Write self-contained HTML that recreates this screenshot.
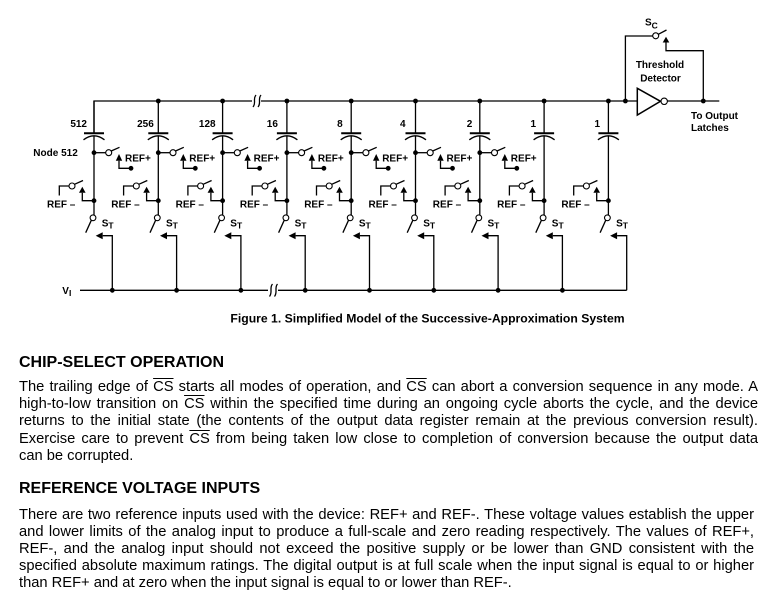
<!DOCTYPE html>
<html><head><meta charset="utf-8">
<style>
html,body{margin:0;padding:0;background:#fff;}
body{width:776px;height:603px;position:relative;overflow:hidden;font-family:"Liberation Sans",Arial,sans-serif;color:#000;}
svg{position:absolute;left:0;top:0;}
.w{stroke:#000;stroke-width:1.3;fill:none;}
.d{fill:#000;stroke:none;}
.o{fill:#fff;stroke:#000;stroke-width:1.1;}
svg text{font-family:"Liberation Sans",Arial,sans-serif;font-weight:bold;font-size:10px;fill:#000;}
.h{position:absolute;left:19px;font-size:16px;line-height:16px;font-weight:bold;white-space:nowrap;}
.l{position:absolute;left:19px;width:739px;font-size:14.7px;line-height:14.7px;text-align:justify;text-align-last:justify;}
.p2{width:735px;}
.last{text-align:left;text-align-last:left;}
.ov{text-decoration:overline;}
</style></head><body>
<svg width="776" height="340" viewBox="0 0 776 340">
<path class="w" d="M94,133.3 V101 H637.3"/>
<rect x="252" y="97" width="9" height="8" fill="#fff"/>
<path class="w" d="M256,95 C252.5,99 256.5,103 253,107"/>
<path class="w" d="M261,95 C257.5,99 261.5,103 258,107"/>
<line class="w" x1="80" y1="290.3" x2="626.7" y2="290.3"/>
<rect x="268" y="287" width="10" height="7" fill="#fff"/>
<path class="w" d="M272.5,284 C269,288 273,292 269.5,296.5"/>
<path class="w" d="M277.5,284 C274,288 278,292 274.5,296.5"/>
<text x="62.3" y="294">V<tspan font-size="8.5" dy="2">I</tspan></text>
<text x="33.3" y="156">Node 512</text>

<g transform="translate(94,0)">
<line class="w" x1="0" y1="101" x2="0" y2="133.3"/><line x1="-10" y1="133.3" x2="10" y2="133.3" stroke="#000" stroke-width="2"/><path class="w" d="M-10.5,139.8 Q0,131.8 10.5,139.8"/><line class="w" x1="0" y1="135.8" x2="0" y2="215"/>
<circle class="d" cx="0" cy="152.7" r="2.4"/><line class="w" x1="0" y1="152.7" x2="11.6" y2="152.7"/><circle class="o" cx="14.7" cy="152.7" r="3"/><line class="w" x1="17.2" y1="151" x2="25.5" y2="147.3"/><polygon class="d" points="25,154 21.8,160.7 28.2,160.7"/><path class="w" d="M25,160.7 V168.3 H37"/><circle class="d" cx="37" cy="168.3" r="2.4"/><text x="31" y="161.7">REF+</text>
<path class="w" d="M-34.7,195.5 V186 H-25"/><circle class="o" cx="-22" cy="186" r="3"/><line class="w" x1="-19.5" y1="184.3" x2="-11" y2="180.5"/><polygon class="d" points="-11.7,186.7 -15,192.7 -8.4,192.7"/><path class="w" d="M-11.7,192.7 V200.7 H0"/><circle class="d" cx="0" cy="200.7" r="2.4"/><text x="-47" y="207.5">REF –</text>
<circle class="o" cx="-1" cy="217.8" r="2.9"/><line class="w" x1="-2.7" y1="220.3" x2="-8.3" y2="232.7"/><polygon class="d" points="1.7,235.7 8.7,232.2 8.7,239.2"/><path class="w" d="M8.7,235.7 H18.3 V290.3"/><circle class="d" cx="18.3" cy="290.3" r="2.4"/><text x="7.7" y="226.7">S<tspan font-size="8.5" dy="1.8">T</tspan></text>
<text x="-7" y="127" text-anchor="end">512</text>
</g>

<g transform="translate(158.3,0)">
<circle class="d" cx="0" cy="101" r="2.4"/>
<line class="w" x1="0" y1="101" x2="0" y2="133.3"/><line x1="-10" y1="133.3" x2="10" y2="133.3" stroke="#000" stroke-width="2"/><path class="w" d="M-10.5,139.8 Q0,131.8 10.5,139.8"/><line class="w" x1="0" y1="135.8" x2="0" y2="215"/>
<circle class="d" cx="0" cy="152.7" r="2.4"/><line class="w" x1="0" y1="152.7" x2="11.6" y2="152.7"/><circle class="o" cx="14.7" cy="152.7" r="3"/><line class="w" x1="17.2" y1="151" x2="25.5" y2="147.3"/><polygon class="d" points="25,154 21.8,160.7 28.2,160.7"/><path class="w" d="M25,160.7 V168.3 H37"/><circle class="d" cx="37" cy="168.3" r="2.4"/><text x="31" y="161.7">REF+</text>
<path class="w" d="M-34.7,195.5 V186 H-25"/><circle class="o" cx="-22" cy="186" r="3"/><line class="w" x1="-19.5" y1="184.3" x2="-11" y2="180.5"/><polygon class="d" points="-11.7,186.7 -15,192.7 -8.4,192.7"/><path class="w" d="M-11.7,192.7 V200.7 H0"/><circle class="d" cx="0" cy="200.7" r="2.4"/><text x="-47" y="207.5">REF –</text>
<circle class="o" cx="-1" cy="217.8" r="2.9"/><line class="w" x1="-2.7" y1="220.3" x2="-8.3" y2="232.7"/><polygon class="d" points="1.7,235.7 8.7,232.2 8.7,239.2"/><path class="w" d="M8.7,235.7 H18.3 V290.3"/><circle class="d" cx="18.3" cy="290.3" r="2.4"/><text x="7.7" y="226.7">S<tspan font-size="8.5" dy="1.8">T</tspan></text>
<text x="-4.5" y="127" text-anchor="end">256</text>
</g>

<g transform="translate(222.6,0)">
<circle class="d" cx="0" cy="101" r="2.4"/>
<line class="w" x1="0" y1="101" x2="0" y2="133.3"/><line x1="-10" y1="133.3" x2="10" y2="133.3" stroke="#000" stroke-width="2"/><path class="w" d="M-10.5,139.8 Q0,131.8 10.5,139.8"/><line class="w" x1="0" y1="135.8" x2="0" y2="215"/>
<circle class="d" cx="0" cy="152.7" r="2.4"/><line class="w" x1="0" y1="152.7" x2="11.6" y2="152.7"/><circle class="o" cx="14.7" cy="152.7" r="3"/><line class="w" x1="17.2" y1="151" x2="25.5" y2="147.3"/><polygon class="d" points="25,154 21.8,160.7 28.2,160.7"/><path class="w" d="M25,160.7 V168.3 H37"/><circle class="d" cx="37" cy="168.3" r="2.4"/><text x="31" y="161.7">REF+</text>
<path class="w" d="M-34.7,195.5 V186 H-25"/><circle class="o" cx="-22" cy="186" r="3"/><line class="w" x1="-19.5" y1="184.3" x2="-11" y2="180.5"/><polygon class="d" points="-11.7,186.7 -15,192.7 -8.4,192.7"/><path class="w" d="M-11.7,192.7 V200.7 H0"/><circle class="d" cx="0" cy="200.7" r="2.4"/><text x="-47" y="207.5">REF –</text>
<circle class="o" cx="-1" cy="217.8" r="2.9"/><line class="w" x1="-2.7" y1="220.3" x2="-8.3" y2="232.7"/><polygon class="d" points="1.7,235.7 8.7,232.2 8.7,239.2"/><path class="w" d="M8.7,235.7 H18.3 V290.3"/><circle class="d" cx="18.3" cy="290.3" r="2.4"/><text x="7.7" y="226.7">S<tspan font-size="8.5" dy="1.8">T</tspan></text>
<text x="-7" y="127" text-anchor="end">128</text>
</g>

<g transform="translate(286.9,0)">
<circle class="d" cx="0" cy="101" r="2.4"/>
<line class="w" x1="0" y1="101" x2="0" y2="133.3"/><line x1="-10" y1="133.3" x2="10" y2="133.3" stroke="#000" stroke-width="2"/><path class="w" d="M-10.5,139.8 Q0,131.8 10.5,139.8"/><line class="w" x1="0" y1="135.8" x2="0" y2="215"/>
<circle class="d" cx="0" cy="152.7" r="2.4"/><line class="w" x1="0" y1="152.7" x2="11.6" y2="152.7"/><circle class="o" cx="14.7" cy="152.7" r="3"/><line class="w" x1="17.2" y1="151" x2="25.5" y2="147.3"/><polygon class="d" points="25,154 21.8,160.7 28.2,160.7"/><path class="w" d="M25,160.7 V168.3 H37"/><circle class="d" cx="37" cy="168.3" r="2.4"/><text x="31" y="161.7">REF+</text>
<path class="w" d="M-34.7,195.5 V186 H-25"/><circle class="o" cx="-22" cy="186" r="3"/><line class="w" x1="-19.5" y1="184.3" x2="-11" y2="180.5"/><polygon class="d" points="-11.7,186.7 -15,192.7 -8.4,192.7"/><path class="w" d="M-11.7,192.7 V200.7 H0"/><circle class="d" cx="0" cy="200.7" r="2.4"/><text x="-47" y="207.5">REF –</text>
<circle class="o" cx="-1" cy="217.8" r="2.9"/><line class="w" x1="-2.7" y1="220.3" x2="-8.3" y2="232.7"/><polygon class="d" points="1.7,235.7 8.7,232.2 8.7,239.2"/><path class="w" d="M8.7,235.7 H18.3 V290.3"/><circle class="d" cx="18.3" cy="290.3" r="2.4"/><text x="7.7" y="226.7">S<tspan font-size="8.5" dy="1.8">T</tspan></text>
<text x="-9" y="127" text-anchor="end">16</text>
</g>

<g transform="translate(351.2,0)">
<circle class="d" cx="0" cy="101" r="2.4"/>
<line class="w" x1="0" y1="101" x2="0" y2="133.3"/><line x1="-10" y1="133.3" x2="10" y2="133.3" stroke="#000" stroke-width="2"/><path class="w" d="M-10.5,139.8 Q0,131.8 10.5,139.8"/><line class="w" x1="0" y1="135.8" x2="0" y2="215"/>
<circle class="d" cx="0" cy="152.7" r="2.4"/><line class="w" x1="0" y1="152.7" x2="11.6" y2="152.7"/><circle class="o" cx="14.7" cy="152.7" r="3"/><line class="w" x1="17.2" y1="151" x2="25.5" y2="147.3"/><polygon class="d" points="25,154 21.8,160.7 28.2,160.7"/><path class="w" d="M25,160.7 V168.3 H37"/><circle class="d" cx="37" cy="168.3" r="2.4"/><text x="31" y="161.7">REF+</text>
<path class="w" d="M-34.7,195.5 V186 H-25"/><circle class="o" cx="-22" cy="186" r="3"/><line class="w" x1="-19.5" y1="184.3" x2="-11" y2="180.5"/><polygon class="d" points="-11.7,186.7 -15,192.7 -8.4,192.7"/><path class="w" d="M-11.7,192.7 V200.7 H0"/><circle class="d" cx="0" cy="200.7" r="2.4"/><text x="-47" y="207.5">REF –</text>
<circle class="o" cx="-1" cy="217.8" r="2.9"/><line class="w" x1="-2.7" y1="220.3" x2="-8.3" y2="232.7"/><polygon class="d" points="1.7,235.7 8.7,232.2 8.7,239.2"/><path class="w" d="M8.7,235.7 H18.3 V290.3"/><circle class="d" cx="18.3" cy="290.3" r="2.4"/><text x="7.7" y="226.7">S<tspan font-size="8.5" dy="1.8">T</tspan></text>
<text x="-8.5" y="127" text-anchor="end">8</text>
</g>

<g transform="translate(415.5,0)">
<circle class="d" cx="0" cy="101" r="2.4"/>
<line class="w" x1="0" y1="101" x2="0" y2="133.3"/><line x1="-10" y1="133.3" x2="10" y2="133.3" stroke="#000" stroke-width="2"/><path class="w" d="M-10.5,139.8 Q0,131.8 10.5,139.8"/><line class="w" x1="0" y1="135.8" x2="0" y2="215"/>
<circle class="d" cx="0" cy="152.7" r="2.4"/><line class="w" x1="0" y1="152.7" x2="11.6" y2="152.7"/><circle class="o" cx="14.7" cy="152.7" r="3"/><line class="w" x1="17.2" y1="151" x2="25.5" y2="147.3"/><polygon class="d" points="25,154 21.8,160.7 28.2,160.7"/><path class="w" d="M25,160.7 V168.3 H37"/><circle class="d" cx="37" cy="168.3" r="2.4"/><text x="31" y="161.7">REF+</text>
<path class="w" d="M-34.7,195.5 V186 H-25"/><circle class="o" cx="-22" cy="186" r="3"/><line class="w" x1="-19.5" y1="184.3" x2="-11" y2="180.5"/><polygon class="d" points="-11.7,186.7 -15,192.7 -8.4,192.7"/><path class="w" d="M-11.7,192.7 V200.7 H0"/><circle class="d" cx="0" cy="200.7" r="2.4"/><text x="-47" y="207.5">REF –</text>
<circle class="o" cx="-1" cy="217.8" r="2.9"/><line class="w" x1="-2.7" y1="220.3" x2="-8.3" y2="232.7"/><polygon class="d" points="1.7,235.7 8.7,232.2 8.7,239.2"/><path class="w" d="M8.7,235.7 H18.3 V290.3"/><circle class="d" cx="18.3" cy="290.3" r="2.4"/><text x="7.7" y="226.7">S<tspan font-size="8.5" dy="1.8">T</tspan></text>
<text x="-10" y="127" text-anchor="end">4</text>
</g>

<g transform="translate(479.8,0)">
<circle class="d" cx="0" cy="101" r="2.4"/>
<line class="w" x1="0" y1="101" x2="0" y2="133.3"/><line x1="-10" y1="133.3" x2="10" y2="133.3" stroke="#000" stroke-width="2"/><path class="w" d="M-10.5,139.8 Q0,131.8 10.5,139.8"/><line class="w" x1="0" y1="135.8" x2="0" y2="215"/>
<circle class="d" cx="0" cy="152.7" r="2.4"/><line class="w" x1="0" y1="152.7" x2="11.6" y2="152.7"/><circle class="o" cx="14.7" cy="152.7" r="3"/><line class="w" x1="17.2" y1="151" x2="25.5" y2="147.3"/><polygon class="d" points="25,154 21.8,160.7 28.2,160.7"/><path class="w" d="M25,160.7 V168.3 H37"/><circle class="d" cx="37" cy="168.3" r="2.4"/><text x="31" y="161.7">REF+</text>
<path class="w" d="M-34.7,195.5 V186 H-25"/><circle class="o" cx="-22" cy="186" r="3"/><line class="w" x1="-19.5" y1="184.3" x2="-11" y2="180.5"/><polygon class="d" points="-11.7,186.7 -15,192.7 -8.4,192.7"/><path class="w" d="M-11.7,192.7 V200.7 H0"/><circle class="d" cx="0" cy="200.7" r="2.4"/><text x="-47" y="207.5">REF –</text>
<circle class="o" cx="-1" cy="217.8" r="2.9"/><line class="w" x1="-2.7" y1="220.3" x2="-8.3" y2="232.7"/><polygon class="d" points="1.7,235.7 8.7,232.2 8.7,239.2"/><path class="w" d="M8.7,235.7 H18.3 V290.3"/><circle class="d" cx="18.3" cy="290.3" r="2.4"/><text x="7.7" y="226.7">S<tspan font-size="8.5" dy="1.8">T</tspan></text>
<text x="-7.5" y="127" text-anchor="end">2</text>
</g>

<g transform="translate(544.1,0)">
<circle class="d" cx="0" cy="101" r="2.4"/>
<line class="w" x1="0" y1="101" x2="0" y2="133.3"/><line x1="-10" y1="133.3" x2="10" y2="133.3" stroke="#000" stroke-width="2"/><path class="w" d="M-10.5,139.8 Q0,131.8 10.5,139.8"/><line class="w" x1="0" y1="135.8" x2="0" y2="215"/>
<path class="w" d="M-34.7,195.5 V186 H-25"/><circle class="o" cx="-22" cy="186" r="3"/><line class="w" x1="-19.5" y1="184.3" x2="-11" y2="180.5"/><polygon class="d" points="-11.7,186.7 -15,192.7 -8.4,192.7"/><path class="w" d="M-11.7,192.7 V200.7 H0"/><circle class="d" cx="0" cy="200.7" r="2.4"/><text x="-47" y="207.5">REF –</text>
<circle class="o" cx="-1" cy="217.8" r="2.9"/><line class="w" x1="-2.7" y1="220.3" x2="-8.3" y2="232.7"/><polygon class="d" points="1.7,235.7 8.7,232.2 8.7,239.2"/><path class="w" d="M8.7,235.7 H18.3 V290.3"/><circle class="d" cx="18.3" cy="290.3" r="2.4"/><text x="7.7" y="226.7">S<tspan font-size="8.5" dy="1.8">T</tspan></text>
<text x="-8" y="127" text-anchor="end">1</text>
</g>

<g transform="translate(608.4,0)">
<circle class="d" cx="0" cy="101" r="2.4"/>
<line class="w" x1="0" y1="101" x2="0" y2="133.3"/><line x1="-10" y1="133.3" x2="10" y2="133.3" stroke="#000" stroke-width="2"/><path class="w" d="M-10.5,139.8 Q0,131.8 10.5,139.8"/><line class="w" x1="0" y1="135.8" x2="0" y2="215"/>
<path class="w" d="M-34.7,195.5 V186 H-25"/><circle class="o" cx="-22" cy="186" r="3"/><line class="w" x1="-19.5" y1="184.3" x2="-11" y2="180.5"/><polygon class="d" points="-11.7,186.7 -15,192.7 -8.4,192.7"/><path class="w" d="M-11.7,192.7 V200.7 H0"/><circle class="d" cx="0" cy="200.7" r="2.4"/><text x="-47" y="207.5">REF –</text>
<circle class="o" cx="-1" cy="217.8" r="2.9"/><line class="w" x1="-2.7" y1="220.3" x2="-8.3" y2="232.7"/><polygon class="d" points="1.7,235.7 8.7,232.2 8.7,239.2"/><path class="w" d="M8.7,235.7 H18.3 V290.3"/><text x="7.7" y="226.7">S<tspan font-size="8.5" dy="1.8">T</tspan></text>
<text x="-8.4" y="127" text-anchor="end">1</text>
</g>

<path class="w" d="M625.4,101 V36 H652.6"/>
<circle class="o" cx="655.7" cy="35.8" r="3"/>
<line class="w" x1="658.3" y1="34.3" x2="666.5" y2="30"/>
<polygon class="d" points="666,36.7 662.7,42.5 669.3,42.5"/>
<path class="w" d="M666,42.5 V50.7 H703.3 V101"/>
<polygon points="637.3,88.3 637.3,115 660.5,101.3" fill="#fff" stroke="#000" stroke-width="1.5"/>
<circle class="o" cx="664.2" cy="101.3" r="3.2" stroke-width="1.3"/>
<line class="w" x1="667.4" y1="101" x2="719.3" y2="101"/>
<circle class="d" cx="703.3" cy="101" r="2.4"/>
<circle class="d" cx="625.4" cy="101" r="2.4"/>
<text x="645" y="25.7">S<tspan font-size="8.5" dy="2.6">C</tspan></text>
<text x="660" y="68" text-anchor="middle">Threshold</text>
<text x="660.5" y="81.5" text-anchor="middle">Detector</text>
<text x="691" y="119">To Output</text>
<text x="691" y="131">Latches</text>

<text x="427.5" y="322.5" text-anchor="middle" style="font-size:12.2px">Figure 1. Simplified Model of the Successive-Approximation System</text>
</svg>

<div class="h" style="top:354.5px">CHIP-SELECT OPERATION</div>
<div class="l" style="top:379.6px">The trailing edge of <span class="ov">CS</span> starts all modes of operation, and <span class="ov">CS</span> can abort a conversion sequence in any mode. A</div>
<div class="l" style="top:396.9px">high-to-low transition on <span class="ov">CS</span> within the specified time during an ongoing cycle aborts the cycle, and the device</div>
<div class="l" style="top:414.2px">returns to the initial state (the contents of the output data register remain at the previous conversion result).</div>
<div class="l" style="top:431.5px">Exercise care to prevent <span class="ov">CS</span> from being taken low close to completion of conversion because the output data</div>
<div class="l last" style="top:448.8px">can be corrupted.</div>

<div class="h" style="top:480.5px">REFERENCE VOLTAGE INPUTS</div>
<div class="l p2" style="top:507.5px">There are two reference inputs used with the device: REF+ and REF-. These voltage values establish the upper</div>
<div class="l p2" style="top:524.5px">and lower limits of the analog input to produce a full-scale and zero reading respectively. The values of REF+,</div>
<div class="l p2" style="top:541.5px">REF-, and the analog input should not exceed the positive supply or be lower than GND consistent with the</div>
<div class="l p2" style="top:558.5px">specified absolute maximum ratings. The digital output is at full scale when the input signal is equal to or higher</div>
<div class="l p2 last" style="top:575.5px">than REF+ and at zero when the input signal is equal to or lower than REF-.</div>
</body></html>
